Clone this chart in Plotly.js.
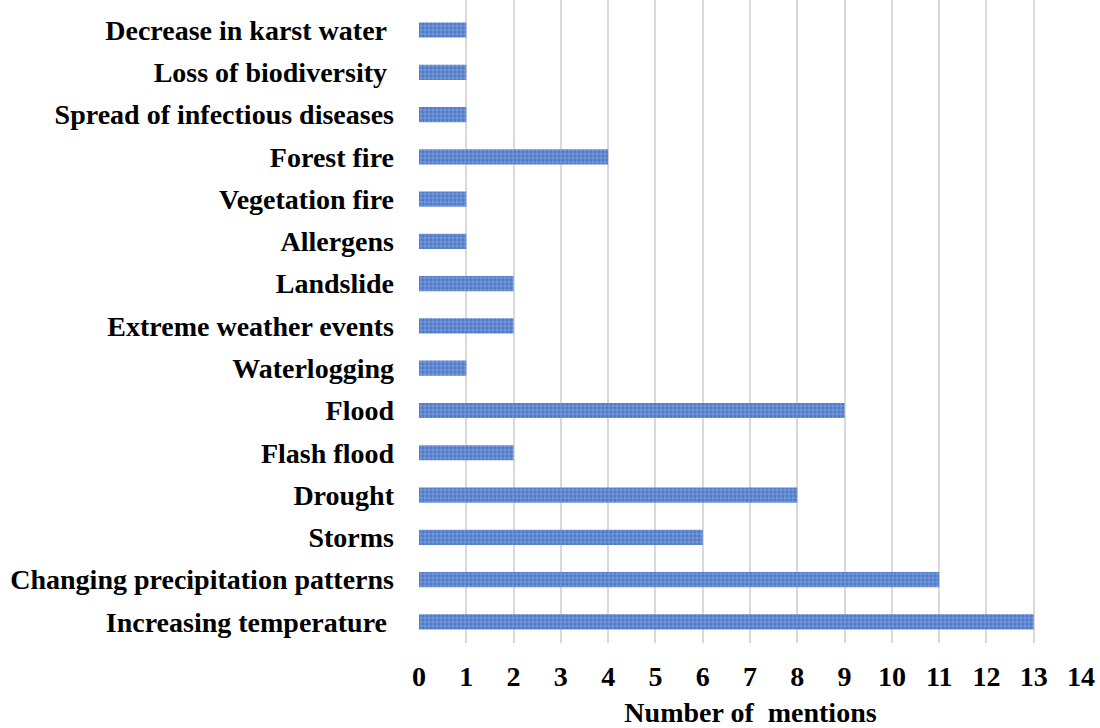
<!DOCTYPE html>
<html><head><meta charset="utf-8">
<script src="https://cdn.plot.ly/plotly-3.0.1.min.js"></script>
<style>html,body{margin:0;padding:0;background:#fff}</style>
</head><body>
<div id="chart" style="width:1100px;height:728px"></div>
<script>
const categories = [
  "Increasing temperature\u00a0",
  "Changing precipitation patterns",
  "Storms",
  "Drought",
  "Flash flood",
  "Flood",
  "Waterlogging",
  "Extreme weather events",
  "Landslide",
  "Allergens",
  "Vegetation fire",
  "Forest fire",
  "Spread of infectious diseases",
  "Loss of biodiversity\u00a0",
  "Decrease in karst water\u00a0"
];
const mentions = [13, 11, 6, 8, 2, 9, 1, 2, 2, 1, 1, 4, 1, 1, 1];
const xTicks = [0,1,2,3,4,5,6,7,8,9,10,11,12,13,14];

const fontFam = "'Liberation Serif', 'Times New Roman', serif";
const trace = {
  type: 'bar',
  orientation: 'h',
  y: categories,
  x: mentions,
  width: 0.36,
  marker: {
    color: '#5a83cf',
    line: {width: 0},
    pattern: {shape: '+', size: 4, solidity: 0.3, fgcolor: '#8eaadf', bgcolor: '#4f79c9'}
  },
  hoverinfo: 'x+y'
};
const layout = {
  width: 1100, height: 728,
  margin: {l: 419, r: 18, t: 0, b: 85},
  paper_bgcolor: '#fff', plot_bgcolor: '#fff',
  showlegend: false,
  bargap: 0.6,
  xaxis: {
    range: [0, 14.02],
    tickvals: xTicks,
    ticktext: xTicks.map(String),
    showgrid: true, gridcolor: '#d9d9d9', gridwidth: 2,
    zeroline: false, showline: false,
    ticks: '', ticklabelstandoff: 14,
    tickfont: {family: fontFam, size: 28, color: '#000', weight: 'bold'},
    title: {text: 'Number of  mentions', font: {family: fontFam, size: 28, color: '#000', weight: 'bold'}, standoff: 13}
  },
  yaxis: {
    type: 'category',
    range: [-0.5, 14.71],
    showgrid: false, zeroline: false, showline: false,
    ticks: '', ticklabelstandoff: 24,
    tickfont: {family: fontFam, size: 28, color: '#000', weight: 'bold'}
  }
};
Plotly.newPlot('chart', [trace], layout, {displayModeBar: false, staticPlot: true});
</script>
</body></html>
